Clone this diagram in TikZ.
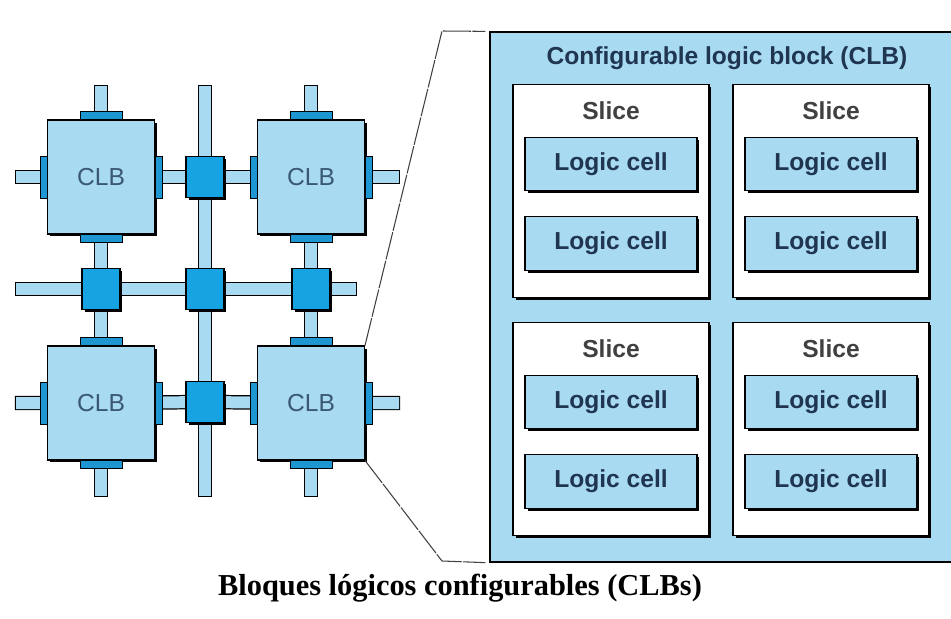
\documentclass[tikz,border=0pt]{standalone}
\usepackage{fontspec}
\setmainfont{Liberation Serif}
\setsansfont{Liberation Sans}
\usetikzlibrary{positioning,shadows,backgrounds}
\definecolor{clbblue}{HTML}{A8DAF2}
\definecolor{swblue}{HTML}{17A2E2}
\definecolor{padblue}{HTML}{1E96D2}
\definecolor{inkblue}{HTML}{1F3550}
\definecolor{clbtext}{HTML}{3A5872}
\tikzset{
  boxshadow/.style={drop shadow={shadow xshift=0.05cm,shadow yshift=-0.05cm,fill=black,opacity=1}},
  clbbox/.style={draw=black,line width=0.6pt,fill=clbblue,boxshadow,minimum width=2.14cm,minimum height=2.28cm,inner sep=0pt,
    font=\sffamily\fontsize{14}{16}\selectfont,text=clbtext},
  swbox/.style={draw=black,line width=0.6pt,fill=swblue,boxshadow,minimum width=0.76cm,minimum height=0.82cm,inner sep=0pt},
  pad/.style={draw=black,line width=0.5pt,fill=padblue},
  wire/.style={draw=black,line width=0.7pt,double=clbblue,double distance=0.24cm,line cap=rect},
  slicebox/.style={draw=black,line width=0.6pt,fill=white,boxshadow,minimum width=3.92cm,minimum height=4.26cm,inner sep=0pt},
  cellbox/.style={draw=black,line width=0.6pt,fill=clbblue,boxshadow,minimum width=3.44cm,minimum height=1.07cm,inner sep=0pt,
    font=\sffamily\bfseries\fontsize{14}{16}\selectfont,text=inkblue},
  slicetext/.style={font=\sffamily\bfseries\fontsize{14}{16}\selectfont,text=black!75,inner sep=0pt},
  zoomline/.style={draw=black!75,line width=0.6pt,dash pattern=on 16pt off 0.8pt},
}

\begin{document}
\begin{tikzpicture}[x=0.02cm,y=-0.02cm]
  \useasboundingbox (0,0) rectangle (951,619);

  % CLB array
  \foreach \name/\x/\y in {clb11/101/177, clb31/311/177, clb13/101/403, clb33/311/403}
    \node[clbbox] (\name) at (\x,\y) {CLB};
  \foreach \name/\x/\y in {sw21/205/177, sw12/101/289, sw22/205/289, sw32/311/289, sw23/205/402}
    \node[swbox] (\name) at (\x,\y) {};

  \foreach \name in {clb11,clb31,clb13,clb33} {
    \draw[pad] ([xshift=-0.42cm]\name.north) rectangle ([xshift=0.42cm,yshift=0.16cm]\name.north);
    \draw[pad] ([xshift=-0.42cm]\name.south) rectangle ([xshift=0.42cm,yshift=-0.16cm]\name.south);
    \draw[pad] ([yshift=-0.42cm]\name.west) rectangle ([yshift=0.42cm,xshift=-0.14cm]\name.west);
    \draw[pad] ([yshift=-0.42cm]\name.east) rectangle ([yshift=0.42cm,xshift=0.14cm]\name.east);
  }

  \coordinate (r1w) at (22,177);  \coordinate (r1e) at (393,177);
  \coordinate (r2w) at (22,289);  \coordinate (r2e) at (350,289);
  \coordinate (r3w) at (22,403);  \coordinate (r3e) at (393,403);
  \coordinate (c1n) at (101,92);  \coordinate (c1s) at (101,490);
  \coordinate (c2n) at (205,92);  \coordinate (c2s) at (205,490);
  \coordinate (c3n) at (311,92);  \coordinate (c3s) at (311,490);

  \begin{pgfonlayer}{background}
    \draw[wire] (r1w) -- (clb11) -- (sw21) -- (clb31) -- (r1e);
    \draw[wire] (r2w) -- (sw12) -- (sw22) -- (sw32) -- (r2e);
    \draw[wire] (r3w) -- (clb13) -- (sw23) -- (clb33) -- (r3e);
    \draw[wire] (c1n) -- (clb11) -- (sw12) -- (clb13) -- (c1s);
    \draw[wire] (c2n) -- (sw21) -- (sw22) -- (sw23) -- (c2s);
    \draw[wire] (c3n) -- (clb31) -- (sw32) -- (clb33) -- (c3s);
  \end{pgfonlayer}

  % one CLB, enlarged
  \node[draw=black,line width=0.8pt,fill=clbblue,minimum width=9.3cm,minimum height=10.6cm,inner sep=0pt] (bigclb) at (722.5,297) {};
  \node[font=\sffamily\bfseries\fontsize{14}{16}\selectfont,text=inkblue,inner sep=0pt] (bigtitle) at (727,58) {Configurable logic block (CLB)};

  \foreach \s/\x/\y in {a/611/191, b/831/191, c/611/429, d/831/429} {
    \node[slicebox] (slice\s) at (\x,\y) {};
    \node[slicetext] (slice\s-t) at ([yshift=-0.54cm]slice\s.north) {Slice};
    \node[cellbox] (cell\s1) at ([yshift=-1.6cm]slice\s.north) {Logic cell};
    \node[cellbox] (cell\s2) at ([yshift=-3.19cm]slice\s.north) {Logic cell};
  }

  \coordinate (zt) at (442,31);
  \coordinate (zb) at (442,561);
  \draw[zoomline] (clb33.north east) -- (zt) -- ([xshift=-0.08cm]bigclb.north west);
  \draw[zoomline] (clb33.south east) -- (zb) -- ([xshift=-0.08cm]bigclb.south west);

  \node[font=\rmfamily\bfseries\fontsize{17.3}{20}\selectfont] (caption) at (460,588) {Bloques lógicos configurables (CLBs)};
\end{tikzpicture}
\end{document}
